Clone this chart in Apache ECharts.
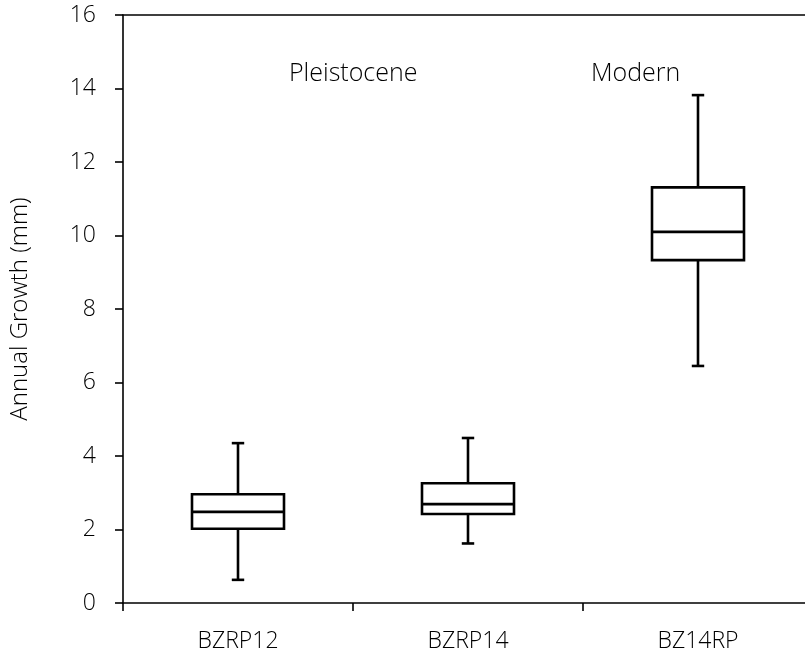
<!DOCTYPE html>
<html>
<head>
<meta charset="utf-8">
<script src="https://cdn.jsdelivr.net/npm/echarts@6/dist/echarts.min.js"></script>
<style>
  html, body { margin: 0; padding: 0; background: #fff; }
  #chart { width: 805px; height: 654px; }
</style>
</head>
<body>
<div id="chart"></div>
<script>
// Annual growth by specimen: box summaries (min, Q1, median, Q3, max), in mm
const categories = ['BZRP12', 'BZRP14', 'BZ14RP'];
const whiskerLow  = [0.63, 1.62, 6.45];
const quartile1   = [2.02, 2.42, 9.33];
const medians     = [2.48, 2.69, 10.10];
const quartile3   = [2.96, 3.26, 11.31];
const whiskerHigh = [4.35, 4.49, 13.82];
const yTicks = [0, 2, 4, 6, 8, 10, 12, 14, 16];

const FONT = 'Open Sans';

const boxData = categories.map((c, i) =>
  [i, whiskerLow[i], quartile1[i], medians[i], quartile3[i], whiskerHigh[i]]);

function renderBox(params, api) {
  const idx = api.value(0);
  const band = api.size([1, 0])[0];
  const half = band * 0.2;
  const cap = band * 0.027;
  const pLow = api.coord([idx, api.value(1)]);
  const pQ1 = api.coord([idx, api.value(2)]);
  const pMed = api.coord([idx, api.value(3)]);
  const pQ3 = api.coord([idx, api.value(4)]);
  const pHigh = api.coord([idx, api.value(5)]);
  const x = pMed[0];
  const line = { stroke: '#000', lineWidth: 2.6, fill: null };
  return {
    type: 'group',
    children: [
      { type: 'line', shape: { x1: x, y1: pHigh[1], x2: x, y2: pQ3[1] }, style: line },
      { type: 'line', shape: { x1: x - cap, y1: pHigh[1], x2: x + cap, y2: pHigh[1] }, style: line },
      { type: 'line', shape: { x1: x, y1: pQ1[1], x2: x, y2: pLow[1] }, style: line },
      { type: 'line', shape: { x1: x - cap, y1: pLow[1], x2: x + cap, y2: pLow[1] }, style: line },
      { type: 'rect', shape: { x: x - half, y: pQ3[1], width: half * 2, height: pQ1[1] - pQ3[1] },
        style: { stroke: '#000', lineWidth: 2.6, fill: '#fff' } },
      { type: 'line', shape: { x1: x - half, y1: pMed[1], x2: x + half, y2: pMed[1] }, style: line }
    ]
  };
}

const chart = echarts.init(document.getElementById('chart'));
chart.setOption({
  backgroundColor: '#fff',
  animation: false,
  grid: { left: 123, top: 15, width: 690, height: 588, containLabel: false, outerBoundsMode: 'none' },
  xAxis: [{
    type: 'category',
    data: categories,
    boundaryGap: true,
    axisLine: { lineStyle: { color: '#000', width: 1.6 } },
    axisTick: { show: true, alignWithLabel: false, length: 8, lineStyle: { color: '#000', width: 1.6 } },
    axisLabel: { color: '#000', fontFamily: FONT, fontWeight: 300, fontSize: 23, margin: 27 },
    splitLine: { show: false }
  }, {
    type: 'category',
    position: 'top',
    data: categories,
    axisLine: { show: true, lineStyle: { color: '#000', width: 1.6 } },
    axisTick: { show: false },
    axisLabel: { show: false },
    splitLine: { show: false }
  }],
  yAxis: {
    type: 'value',
    min: yTicks[0],
    max: yTicks[yTicks.length - 1],
    interval: 2,
    name: 'Annual Growth (mm)',
    nameLocation: 'middle',
    nameGap: 91,
    nameRotate: 90,
    nameTextStyle: { color: '#000', fontFamily: FONT, fontWeight: 300, fontSize: 24 },
    axisLine: { show: true, lineStyle: { color: '#000', width: 1.6 } },
    axisTick: { show: true, inside: false, length: 8, lineStyle: { color: '#000', width: 1.6 } },
    axisLabel: { color: '#000', fontFamily: FONT, fontWeight: 300, fontSize: 23, margin: 27 },
    splitLine: { show: false }
  },
  graphic: [
    { type: 'text', left: 289, top: 61,
      style: { text: 'Pleistocene', fill: '#000', font: '300 25px "Open Sans"' } },
    { type: 'text', left: 591, top: 61,
      style: { text: 'Modern', fill: '#000', font: '300 25px "Open Sans"' } }
  ],
  series: [{
    type: 'custom',
    renderItem: renderBox,
    encode: { x: 0, y: [1, 2, 3, 4, 5] },
    data: boxData,
    clip: false
  }]
});
</script>
</body>
</html>
